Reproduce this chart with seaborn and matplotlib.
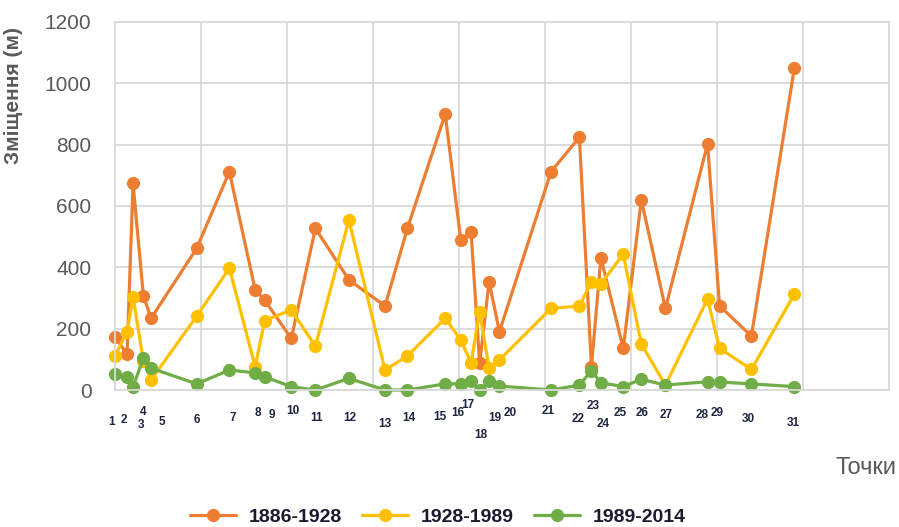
import matplotlib
matplotlib.use("Agg")
import matplotlib.pyplot as plt
from matplotlib.lines import Line2D
import seaborn as sns
import pandas as pd

# ---- data ----
point_labels = [str(i) for i in range(1, 32)]
x_pos = [0.00, 0.14, 0.21, 0.33, 0.42, 0.95, 1.33, 1.63, 1.74, 2.05, 2.33,
         2.72, 3.14, 3.40, 3.84, 4.02, 4.14, 4.24, 4.35, 4.47, 5.07, 5.40,
         5.54, 5.65, 5.91, 6.12, 6.40, 6.89, 7.03, 7.40, 7.90]
s_1886_1928 = [174, 117, 674, 307, 234, 462, 712, 326, 293, 168, 527, 359, 274,
               527, 900, 489, 516, 87, 353, 190, 712, 824, 76, 431, 136, 620,
               266, 802, 274, 176, 1051]
s_1928_1989 = [111, 190, 304, 95, 33, 241, 397, 76, 226, 261, 143, 554, 65,
               111, 234, 163, 89, 255, 71, 98, 266, 274, 353, 346, 443, 150,
               16, 297, 136, 67, 313]
s_1989_2014 = [51, 41, 11, 103, 71, 20, 65, 56, 43, 11, 0, 38, 0, 0, 20, 20,
               30, 0, 30, 13, 0, 16, 63, 24, 11, 35, 16, 27, 26, 20, 11]
series_names = ["1886-1928", "1928-1989", "1989-2014"]
colors = ["#ED7D31", "#FFC000", "#70AD47"]
y_ticks = [0, 200, 400, 600, 800, 1000, 1200]

# label placement (pixels relative to the point x / below axis)
label_dx = [-3, -3, 8, 0, 11, 0, 3, 3, 7, 2, 1, 1, 0, 1, -5, -3, -3, 1, 6, 11,
            -3, -1, 2, 2, -3, 1, 1, -5, -2, -3, -1]
label_dy = [32, 30, 35, 22, 32, 30, 28, 23, 25, 21, 28, 28, 34, 28, 27, 23, 15,
            45, 28, 23, 21, 29, 16, 34, 23, 23, 25, 25, 23, 29, 33]

frames = []
for name, vals in zip(series_names, [s_1886_1928, s_1928_1989, s_1989_2014]):
    frames.append(pd.DataFrame({"x": x_pos, "y": vals, "period": name}))
df = pd.concat(frames, ignore_index=True)

sns.set_theme(style="white")
plt.rcParams["font.family"] = ["Liberation Sans", "DejaVu Sans"]

fig = plt.figure(figsize=(8.99, 5.27), dpi=100)
ax = fig.add_axes([115 / 899, 1 - 390 / 527, 774 / 899, 368 / 527])

sns.lineplot(data=df, x="x", y="y", hue="period", palette=colors,
             hue_order=series_names, marker="o", markersize=9.5,
             markeredgewidth=0, linewidth=2.3, estimator=None, sort=False,
             legend=False, ax=ax)
for ln in ax.get_lines():
    ln.set_clip_on(False)

grid_c = "#d9d9d9"
ax.set_xlim(0, 9)
ax.set_ylim(0, 1200)
ax.set_xticks(range(0, 10))
ax.set_yticks(y_ticks)
ax.set_xticklabels([])
ax.grid(True, color=grid_c, linewidth=1.3)
ax.set_axisbelow(True)
for sp in ax.spines.values():
    sp.set_color(grid_c)
    sp.set_linewidth(1.3)
ax.tick_params(axis="both", length=0)
ax.tick_params(axis="y", pad=17, labelsize=15, labelcolor="#595959")
ax.set_xlabel("")
ax.set_ylabel("Зміщення (м)", fontsize=15, color="#595959", fontweight="bold")
ax.yaxis.set_label_coords(-0.119, 0.80)

for i, lab in enumerate(point_labels):
    ax.annotate(lab, xy=(x_pos[i], 0), xytext=(label_dx[i], -label_dy[i]),
                textcoords="offset pixels", ha="center", va="center",
                fontsize=8.5, fontweight="bold", color="#1f2540",
                annotation_clip=False)

fig.text(897 / 899, 1 - 468 / 527, "Точки", ha="right", va="center",
         fontsize=17, color="#595959")

handles = [Line2D([0], [0], color=c, linewidth=2.3, marker="o", markersize=9.5,
                  markeredgewidth=0) for c in colors]
leg = fig.legend(handles, series_names, loc="center",
                 bbox_to_anchor=(0.487, 1 - 517 / 527), ncol=3, frameon=False,
                 handlelength=2.4, handletextpad=0.65, columnspacing=1.0,
                 prop={"family": ["Liberation Sans"],
                       "weight": "bold", "size": 14})
for t in leg.get_texts():
    t.set_color("#1a1a2e")

fig.savefig("out.png", dpi=100)
